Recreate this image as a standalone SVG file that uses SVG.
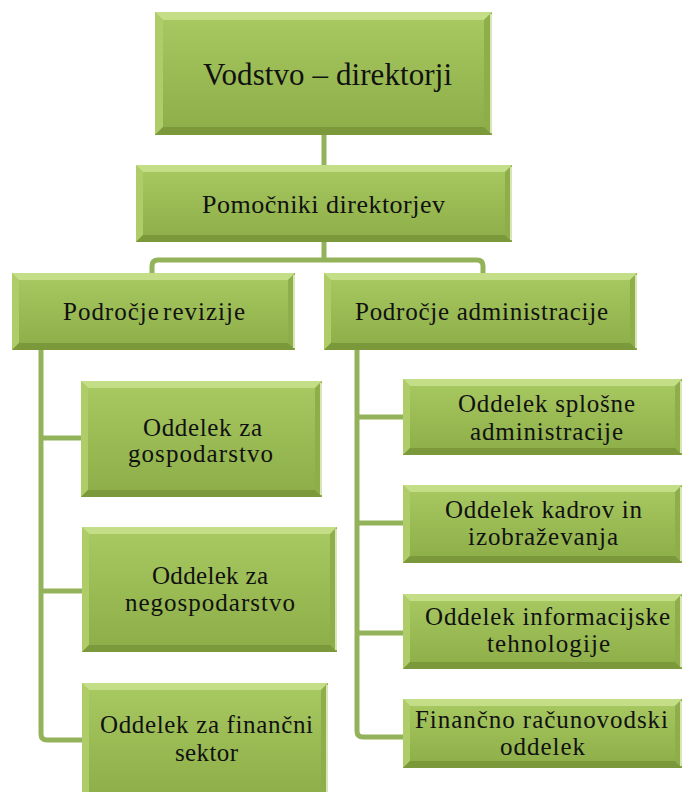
<svg xmlns="http://www.w3.org/2000/svg" width="683" height="792" viewBox="0 0 683 792">
<defs>
<linearGradient id="g" x1="0" y1="0" x2="0" y2="1">
<stop offset="0" stop-color="#a9ca62"/>
<stop offset="1" stop-color="#8cad47"/>
</linearGradient>
<style>
.box{fill:url(#g)}
.bt{fill:#c4de88}
.bl{fill:#aecd69}
.br{fill:#8eae4a}
.bb{fill:#7b993b}
.hl{stroke:#f1f8dc;stroke-width:1.5;fill:none}
.c{fill:none;stroke:#93b35a;stroke-width:5;stroke-linejoin:round;stroke-linecap:butt}
.lbl{font-family:"Times New Roman","Liberation Serif","DejaVu Serif",serif;fill:#111;text-anchor:middle}
.t{font-size:25px}
</style>
</defs>
<rect width="683" height="792" fill="#fff"/>
<g id="connectors">
<path class="c" d="M324,135 V165"/>
<path class="c" d="M324,242 V260"/>
<path class="c" d="M152,273 V266 Q152,260 158,260 H477 Q483,260 483,266 V273"/>
<path class="c" d="M41,350 V734 Q41,740 47,740 H82"/>
<path class="c" d="M41,438 H81"/>
<path class="c" d="M41,591 H82"/>
<path class="c" d="M357,350 V731 Q357,737 363,737 H403"/>
<path class="c" d="M357,417 H403"/>
<path class="c" d="M357,523 H403"/>
<path class="c" d="M357,633 H403"/>
</g>
<g id="vodstvo">
<rect class="box" x="155" y="12" width="337" height="123"/>
<polygon class="bt" points="155,12 492,12 484,20 163,20"/>
<polygon class="bl" points="155,12 163,20 163,127 155,135"/>
<polygon class="br" points="492,12 492,135 484,127 484,20"/>
<polygon class="bb" points="155,135 492,135 484,127 163,127"/>
<line class="hl" x1="491" y1="14" x2="491" y2="133"/>
<text class="lbl" x="327.5" y="85" font-size="31" textLength="249" lengthAdjust="spacing">Vodstvo – direktorji</text>
</g>
<g id="pomocniki">
<rect class="box" x="136" y="165" width="376" height="77"/>
<polygon class="bt" points="136,165 512,165 505,172 143,172"/>
<polygon class="bl" points="136,165 143,172 143,235 136,242"/>
<polygon class="br" points="512,165 512,242 505,235 505,172"/>
<polygon class="bb" points="136,242 512,242 505,235 143,235"/>
<line class="hl" x1="511" y1="167" x2="511" y2="240"/>
<text class="lbl" x="323.5" y="213" font-size="26" textLength="243" lengthAdjust="spacing">Pomočniki direktorjev</text>
</g>
<g id="revizija">
<rect class="box" x="12" y="273" width="283" height="77"/>
<polygon class="bt" points="12,273 295,273 288,280 19,280"/>
<polygon class="bl" points="12,273 19,280 19,343 12,350"/>
<polygon class="br" points="295,273 295,350 288,343 288,280"/>
<polygon class="bb" points="12,350 295,350 288,343 19,343"/>
<line class="hl" x1="294" y1="275" x2="294" y2="348"/>
<text class="lbl t" x="154" y="320" textLength="182" lengthAdjust="spacing" word-spacing="-4">Področje revizije</text>
</g>
<g id="administracija">
<rect class="box" x="324" y="273" width="313" height="77"/>
<polygon class="bt" points="324,273 637,273 630,280 331,280"/>
<polygon class="bl" points="324,273 331,280 331,343 324,350"/>
<polygon class="br" points="637,273 637,350 630,343 630,280"/>
<polygon class="bb" points="324,350 637,350 630,343 331,343"/>
<line class="hl" x1="636" y1="275" x2="636" y2="348"/>
<text class="lbl t" x="481.5" y="320" textLength="253" lengthAdjust="spacing">Področje administracije</text>
</g>
<g id="gospodarstvo">
<rect class="box" x="81" y="381" width="241" height="116"/>
<polygon class="bt" points="81,381 322,381 315,388 88,388"/>
<polygon class="bl" points="81,381 88,388 88,490 81,497"/>
<polygon class="br" points="322,381 322,497 315,490 315,388"/>
<polygon class="bb" points="81,497 322,497 315,490 88,490"/>
<line class="hl" x1="321" y1="383" x2="321" y2="495"/>
<text class="lbl t" x="202.5" y="436" textLength="119" lengthAdjust="spacing">Oddelek za</text>
<text class="lbl t" x="200.5" y="462" textLength="145" lengthAdjust="spacing">gospodarstvo</text>
</g>
<g id="negospodarstvo">
<rect class="box" x="82" y="527" width="255" height="125"/>
<polygon class="bt" points="82,527 337,527 330,534 89,534"/>
<polygon class="bl" points="82,527 89,534 89,645 82,652"/>
<polygon class="br" points="337,527 337,652 330,645 330,534"/>
<polygon class="bb" points="82,652 337,652 330,645 89,645"/>
<line class="hl" x1="336" y1="529" x2="336" y2="650"/>
<text class="lbl t" x="210" y="584" textLength="116" lengthAdjust="spacing">Oddelek za</text>
<text class="lbl t" x="210" y="611" textLength="170" lengthAdjust="spacing">negospodarstvo</text>
</g>
<g id="financni-sektor">
<rect class="box" x="82" y="683" width="246" height="117"/>
<polygon class="bt" points="82,683 328,683 321,690 89,690"/>
<polygon class="bl" points="82,683 89,690 89,793 82,800"/>
<polygon class="br" points="328,683 328,800 321,793 321,690"/>
<polygon class="bb" points="82,800 328,800 321,793 89,793"/>
<line class="hl" x1="327" y1="685" x2="327" y2="798"/>
<text class="lbl t" x="206.5" y="733" textLength="213" lengthAdjust="spacing">Oddelek za finančni</text>
<text class="lbl t" x="206.5" y="761" textLength="63" lengthAdjust="spacing">sektor</text>
</g>
<g id="splosne">
<rect class="box" x="403" y="379" width="279" height="76"/>
<polygon class="bt" points="403,379 682,379 675,386 410,386"/>
<polygon class="bl" points="403,379 410,386 410,448 403,455"/>
<polygon class="br" points="682,379 682,455 675,448 675,386"/>
<polygon class="bb" points="403,455 682,455 675,448 410,448"/>
<line class="hl" x1="681" y1="381" x2="681" y2="453"/>
<text class="lbl t" x="546.5" y="412" textLength="177" lengthAdjust="spacing">Oddelek splošne</text>
<text class="lbl t" x="546.5" y="440" textLength="153" lengthAdjust="spacing">administracije</text>
</g>
<g id="kadrov">
<rect class="box" x="403" y="485" width="279" height="78"/>
<polygon class="bt" points="403,485 682,485 675,492 410,492"/>
<polygon class="bl" points="403,485 410,492 410,556 403,563"/>
<polygon class="br" points="682,485 682,563 675,556 675,492"/>
<polygon class="bb" points="403,563 682,563 675,556 410,556"/>
<line class="hl" x1="681" y1="487" x2="681" y2="561"/>
<text class="lbl t" x="543.5" y="518" textLength="197" lengthAdjust="spacing">Oddelek kadrov in</text>
<text class="lbl t" x="543" y="545" textLength="150" lengthAdjust="spacing">izobraževanja</text>
</g>
<g id="informacijske">
<rect class="box" x="403" y="594" width="279" height="75"/>
<polygon class="bt" points="403,594 682,594 675,601 410,601"/>
<polygon class="bl" points="403,594 410,601 410,662 403,669"/>
<polygon class="br" points="682,594 682,669 675,662 675,601"/>
<polygon class="bb" points="403,669 682,669 675,662 410,662"/>
<line class="hl" x1="681" y1="596" x2="681" y2="667"/>
<text class="lbl t" x="547.5" y="625" textLength="245" lengthAdjust="spacing">Oddelek informacijske</text>
<text class="lbl t" x="548.5" y="652" textLength="123" lengthAdjust="spacing">tehnologije</text>
</g>
<g id="racunovodski">
<rect class="box" x="403" y="699" width="279" height="69"/>
<polygon class="bt" points="403,699 682,699 675,706 410,706"/>
<polygon class="bl" points="403,699 410,706 410,761 403,768"/>
<polygon class="br" points="682,699 682,768 675,761 675,706"/>
<polygon class="bb" points="403,768 682,768 675,761 410,761"/>
<line class="hl" x1="681" y1="701" x2="681" y2="766"/>
<text class="lbl t" x="541.5" y="728" textLength="253" lengthAdjust="spacing">Finančno računovodski</text>
<text class="lbl t" x="542.5" y="755" textLength="85" lengthAdjust="spacing">oddelek</text>
</g>
</svg>
